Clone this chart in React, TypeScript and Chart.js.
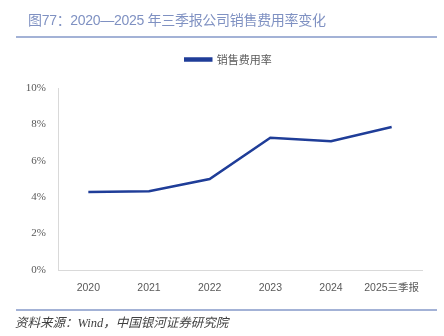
import React, { useEffect, useRef } from "react";
import { Chart, registerables } from "chart.js";

Chart.register(...registerables);

const categories = ["2020", "2021", "2022", "2023", "2024", "2025三季报"];
const salesExpenseRate = [4.29, 4.33, 5.0, 7.27, 7.08, 7.86];
const seriesName = "销售费用率";
const yTicks = [0, 2, 4, 6, 8, 10];
const titleText = "图77：2020—2025 年三季报公司销售费用率变化";
const sourceText = "资料来源：Wind，中国银河证券研究院";

const LINE_COLOR = "#1f3d98";

export default function App() {
  const ref = useRef<HTMLCanvasElement | null>(null);

  useEffect(() => {
    if (!ref.current) return;
    const legendTweak = {
      id: "legendTweak",
      beforeInit(chart: any) {
        const lg = chart.legend;
        const origFit = lg.fit;
        lg.fit = function () {
          origFit.bind(lg)();
          this.height += 13;
        };
        const origDraw = lg.draw;
        lg.draw = function () {
          const ctx = chart.ctx;
          ctx.save();
          ctx.translate(17.5, 0);
          origDraw.bind(lg)();
          ctx.restore();
        };
      },
    };
    const chart = new Chart(ref.current, {
      type: "line",
      data: {
        labels: categories,
        datasets: [
          {
            label: seriesName,
            data: salesExpenseRate,
            borderColor: LINE_COLOR,
            backgroundColor: LINE_COLOR,
            borderWidth: 2.5,
            pointRadius: 0,
            tension: 0,
          },
        ],
      },
      plugins: [legendTweak],
      options: {
        responsive: false,
        animation: false,
        devicePixelRatio: 1,
        layout: { padding: { left: 0, right: 22, top: 44, bottom: 0 } },
        plugins: {
          tooltip: { enabled: false },
          legend: {
            position: "top",
            labels: {
              boxWidth: 26,
              boxHeight: 2,
              padding: 10,
              color: "#595959",
              font: { family: "'Noto Sans CJK SC'", size: 11 },
            },
          },
        },
        scales: {
          x: {
            offset: true,
            grid: { display: false, drawTicks: false, offset: true },
            border: { display: true, color: "#d9d9d9", width: 1 },
            ticks: {
              color: "#595959",
              padding: 12,
              maxRotation: 0,
              autoSkip: false,
              font: { family: "'Liberation Sans', 'Noto Sans CJK SC'", size: 10.5 },
            },
            afterFit(scale: any) {
              scale.height = 66;
            },
          },
          y: {
            min: 0,
            max: 10,
            grid: { display: false, drawTicks: false },
            border: { display: true, color: "#d9d9d9", width: 1 },
            afterBuildTicks(scale: any) {
              scale.ticks = yTicks.map((v) => ({ value: v }));
            },
            ticks: {
              color: "#595959",
              padding: 12,
              font: { family: "'Liberation Serif'", size: 11 },
              callback: (v: any) => v + "%",
            },
            afterFit(scale: any) {
              scale.width = 58;
            },
          },
        },
      },
    });
    return () => chart.destroy();
  }, []);

  return (
    <div
      style={{
        position: "absolute",
        left: 0,
        top: 0,
        width: 444,
        height: 336,
        background: "#ffffff",
        overflow: "hidden",
      }}
    >
      <canvas
        ref={ref}
        width={444}
        height={336}
        style={{ position: "absolute", left: 0, top: 0, width: 444, height: 336 }}
      />
      <div
        style={{
          position: "absolute",
          left: 28,
          top: 10,
          fontFamily: "'Liberation Sans', 'Noto Sans CJK SC'",
          fontSize: 14,
          letterSpacing: "-0.3px",
          lineHeight: "20px",
          color: "#7f91c2",
          whiteSpace: "nowrap",
        }}
      >
        {titleText}
      </div>
      <div
        style={{
          position: "absolute",
          left: 16,
          top: 36,
          width: 421,
          height: 2,
          background: "#a3b2d6",
        }}
      />
      <div
        style={{
          position: "absolute",
          left: 16,
          top: 309,
          width: 421,
          height: 2,
          background: "#a3b2d6",
        }}
      />
      <div
        style={{
          position: "absolute",
          left: 15,
          top: 314,
          fontFamily: "'Liberation Serif', 'Noto Sans CJK SC'",
          fontStyle: "italic",
          fontSize: 12.5,
          lineHeight: "18px",
          color: "#404040",
          whiteSpace: "nowrap",
        }}
      >
        {sourceText}
      </div>
    </div>
  );
}
